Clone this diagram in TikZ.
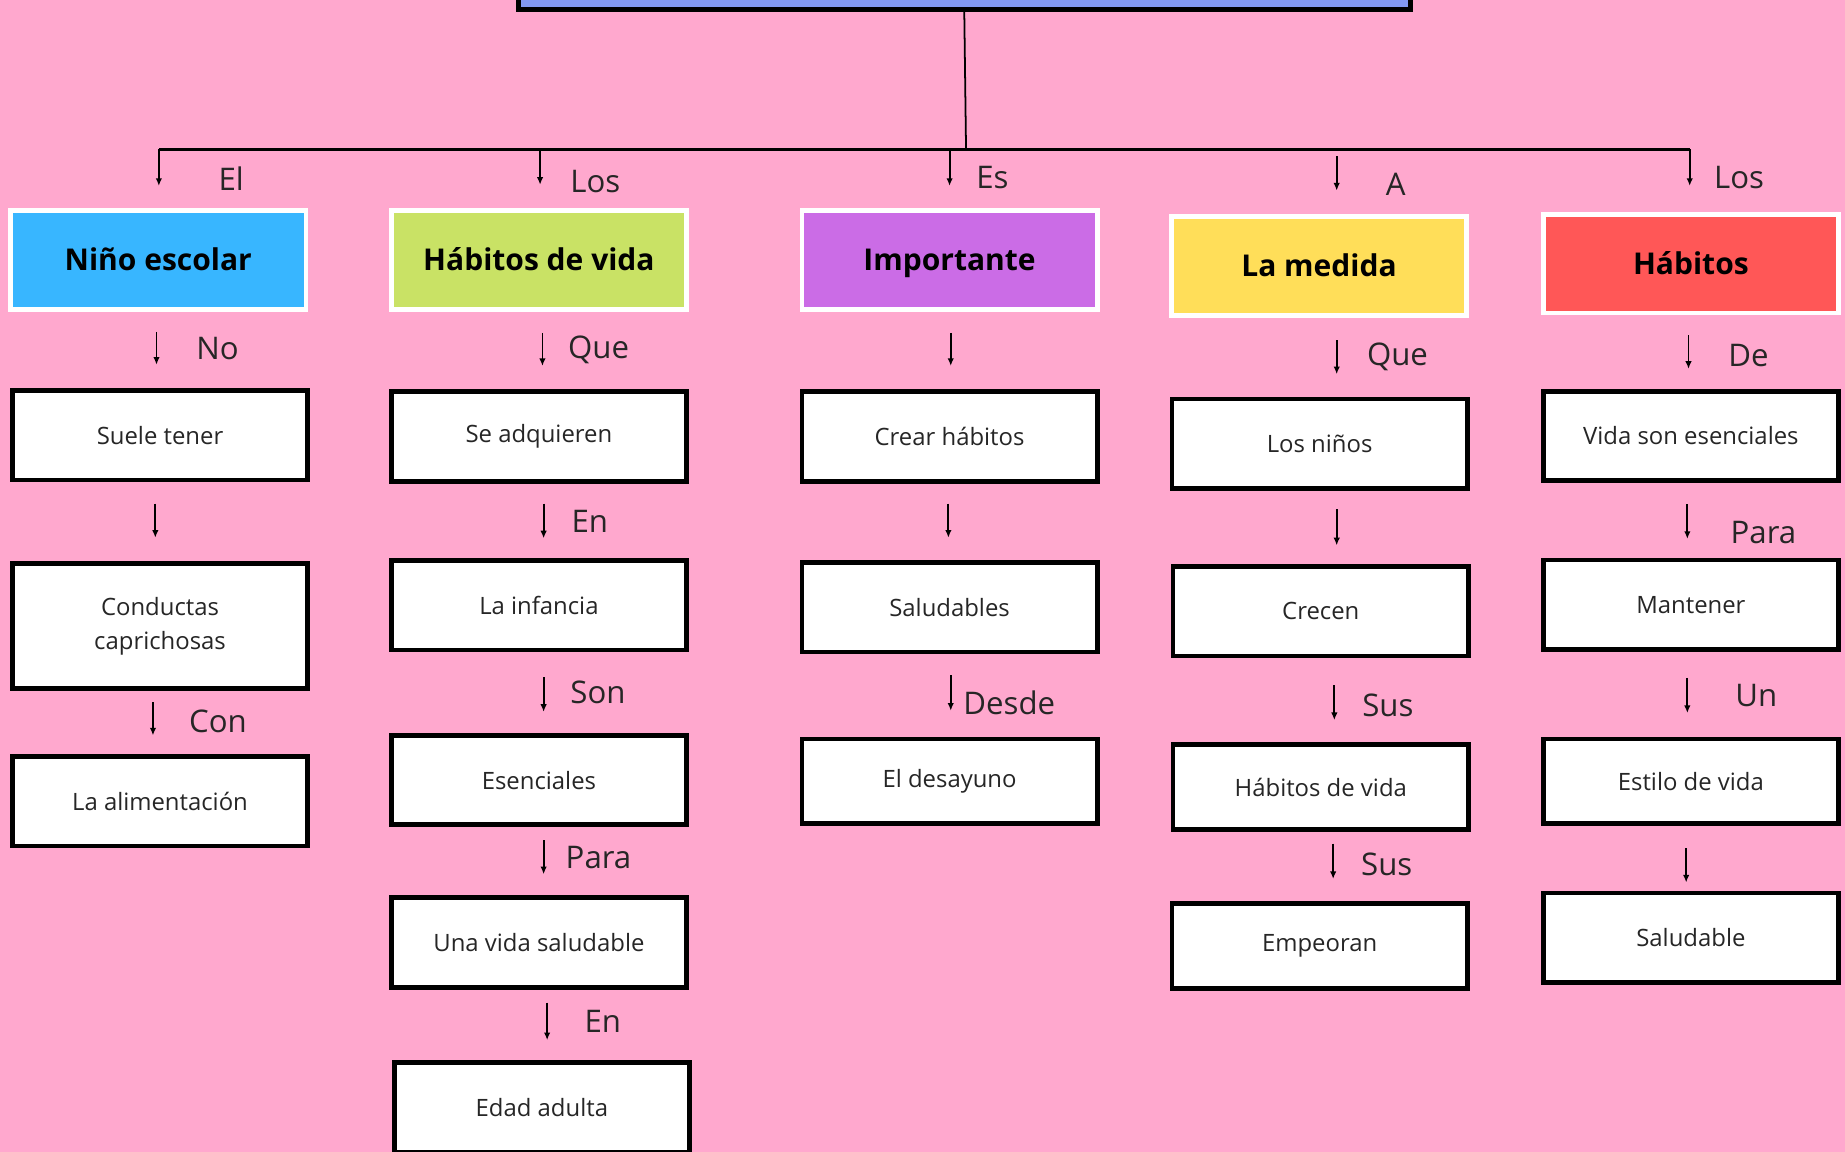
\documentclass[tikz,border=0pt]{standalone}
\usepackage{fontspec}
\setmainfont{Open Sans}
\usetikzlibrary{arrows.meta,positioning}
\definecolor{bgpink}{HTML}{FFA8CE}
\definecolor{topblue}{HTML}{8299F2}
\definecolor{hdrblue}{HTML}{38B6FF}
\definecolor{hdrgreen}{HTML}{C9E265}
\definecolor{hdrpurple}{HTML}{CB6CE6}
\definecolor{hdryellow}{HTML}{FFDE59}
\definecolor{hdrred}{HTML}{FF5757}

\begin{document}
\begin{tikzpicture}[x=1pt,y=-1pt,
    hdr/.style={draw=white, line width=4pt, minimum width=251pt, minimum height=84pt, inner sep=0pt, text height=23pt, text depth=5pt, font=\fontsize{25.5}{30}\selectfont\bfseries},
    box/.style={draw=black, fill=white, line width=4pt, minimum width=251pt, minimum height=76pt, inner sep=0pt, align=center, text=black!85, font=\fontsize{20.3}{29}\selectfont},
    lbl/.style={inner sep=0pt, text=black!85, font=\fontsize{26.5}{30}\selectfont},
    arr/.style={-{Latex[length=6.5pt,width=5.5pt]}, line width=1.6pt}]
        \fill[bgpink] (0,0) rectangle (1568,979);
        \useasboundingbox (0,0) rectangle (1568,979);
        \clip (0,0) rectangle (1568,979);

        \node[draw=black, line width=4.5pt, fill=topblue, minimum width=758pt, minimum height=100pt] (title) at (819.5,-42) {};
        \coordinate (hub) at (821,127);
        \coordinate (t1) at (135,127);
        \coordinate (t2) at (459,127);
        \coordinate (t3) at (807,127);
        \coordinate (t4) at (1136,133);
        \coordinate (t5) at (1436,127);
        \draw[line width=1.5pt] (title.south) -- (hub);
        \draw[line width=2pt] (t1) -- (t5);

        % headers
        \node[hdr, fill=hdrblue] (nino) at (134.5,221) {Niño escolar};
        \node[hdr, fill=hdrgreen] (habvida) at (458,221) {Hábitos de vida};
        \node[hdr, fill=hdrpurple] (importante) at (807,221) {Importante};
        \node[hdr, fill=hdryellow] (medida) at (1121,226) {La medida};
        \node[hdr, fill=hdrred] (habitos) at (1437,224) {Hábitos};

        \draw[arr] (t1) -- ++(0,31) node[lbl, pos=.8, right=50pt] {El};
        \draw[arr] (t2) -- ++(0,30) node[lbl, pos=.9, right=25pt] {Los};
        \draw[arr] (t3) -- ++(0,31) node[lbl, pos=.77, right=22pt] {Es};
        \draw[arr] (t4) -- ++(0,29) node[lbl, pos=.83, right=41pt] {A};
        \draw[arr] (t5) -- ++(0,31) node[lbl, pos=.77, right=20pt] {Los};

        % column 1
        \node[box] (suele) at (136,370) {Suele tener};
        \node[box, minimum height=106pt] (conductas) at (136,532) {Conductas\\caprichosas};
        \node[box] (alimentacion) at (136,681) {La alimentación};
        \draw[arr] ([xshift=-1.5pt,yshift=-17pt]nino.south) -- ([xshift=-3pt,yshift=20pt]suele.north) node[lbl, midway, right=33pt] {No};
        \draw[arr] ([xshift=-4pt,yshift=-18pt]suele.south) -- ([xshift=-4pt,yshift=20pt]conductas.north);
        \draw[arr] ([xshift=-6pt,yshift=-10pt]conductas.south) -- ([xshift=-6pt,yshift=16pt]alimentacion.north) node[lbl, midway, right=30pt, yshift=-2pt] {Con};

        % column 2
        \node[box] (adquieren) at (458,371) {Se adquieren};
        \node[box] (infancia) at (458,514.5) {La infancia};
        \node[box] (esenciales) at (458,663) {Esenciales};
        \node[box] (vidasaludable) at (458,801) {Una vida saludable};
        \node[box] (adulta) at (460.5,941) {Edad adulta};
        \draw[arr] ([xshift=3pt,yshift=-18pt]habvida.south) -- ([xshift=3pt,yshift=20pt]adquieren.north) node[lbl, midway, right=21pt] {Que};
        \draw[arr] ([xshift=4pt,yshift=-17pt]adquieren.south) -- ([xshift=4pt,yshift=17pt]infancia.north) node[lbl, midway, right=23pt] {En};
        \draw[arr] ([xshift=4pt,yshift=-21pt]infancia.south) -- ([xshift=4pt,yshift=18pt]esenciales.north) node[lbl, midway, right=22pt, yshift=2pt] {Son};
        \draw[arr] ([xshift=4pt,yshift=-11pt]esenciales.south) -- ([xshift=4pt,yshift=18pt]vidasaludable.north) node[lbl, midway, right=18pt] {Para};
        \draw[arr] ([xshift=7pt,yshift=-11pt]vidasaludable.south) -- ([xshift=4.5pt,yshift=17pt]adulta.north) node[lbl, midway, right=31pt] {En};

        % column 3
        \node[box] (crear) at (807,371) {Crear hábitos};
        \node[box] (saludables) at (807,516) {Saludables};
        \node[box, minimum height=72pt] (desayuno) at (807,664) {El desayuno};
        \draw[arr] ([xshift=1pt,yshift=-18pt]importante.south) -- ([xshift=1pt,yshift=20pt]crear.north);
        \draw[arr] ([xshift=-1pt,yshift=-17pt]crear.south) -- ([xshift=-1pt,yshift=19pt]saludables.north);
        \draw[arr] ([xshift=1pt,yshift=-18pt]saludables.south) -- ([xshift=1pt,yshift=22pt]desayuno.north) node[lbl, midway, right=10pt, yshift=-8pt] {Desde};

        % column 4
        \node[box] (ninos) at (1121.5,377) {Los niños};
        \node[box] (crecen) at (1122.5,519.5) {Crecen};
        \node[box, minimum height=72pt] (habitosvida) at (1122.5,669) {Hábitos de vida};
        \node[box, minimum height=72pt] (empeoran) at (1121.5,804) {Empeoran};
        \draw[arr] ([xshift=15pt,yshift=-19pt]medida.south) -- ([xshift=14.5pt,yshift=19pt]ninos.north) node[lbl, midway, right=25pt] {Que};
        \draw[arr] ([xshift=14.5pt,yshift=-16pt]ninos.south) -- ([xshift=13.5pt,yshift=16pt]crecen.north);
        \draw[arr] ([xshift=11.5pt,yshift=-23pt]crecen.south) -- ([xshift=11.5pt,yshift=19pt]habitosvida.north) node[lbl, midway, right=23pt, yshift=-2.5pt] {Sus};
        \draw[arr] ([xshift=10.5pt,yshift=-10pt]habitosvida.south) -- ([xshift=11.5pt,yshift=19pt]empeoran.north) node[lbl, midway, right=23pt, yshift=-3pt] {Sus};

        % column 5
        \node[box] (esenciales2) at (1437,370.5) {Vida son esenciales};
        \node[box] (mantener) at (1437,514) {Mantener};
        \node[box, minimum height=72pt] (estilo) at (1437,664) {Estilo de vida};
        \node[box] (saludable) at (1437,797) {Saludable};
        \draw[arr] ([xshift=-2pt,yshift=-17pt]habitos.south) -- ([xshift=-2pt,yshift=17pt]esenciales2.north) node[lbl, midway, right=33pt, yshift=-3pt] {De};
        \draw[arr] ([xshift=-3pt,yshift=-18pt]esenciales2.south) -- ([xshift=-3pt,yshift=16pt]mantener.north) node[lbl, midway, right=36pt, yshift=-9.5pt] {Para};
        \draw[arr] ([xshift=-3pt,yshift=-22pt]mantener.south) -- ([xshift=-3pt,yshift=20pt]estilo.north) node[lbl, midway, right=40pt] {Un};
        \draw[arr] ([xshift=-4pt,yshift=-19pt]estilo.south) -- ([xshift=-4pt,yshift=7pt]saludable.north);
    \end{tikzpicture}
\end{document}
